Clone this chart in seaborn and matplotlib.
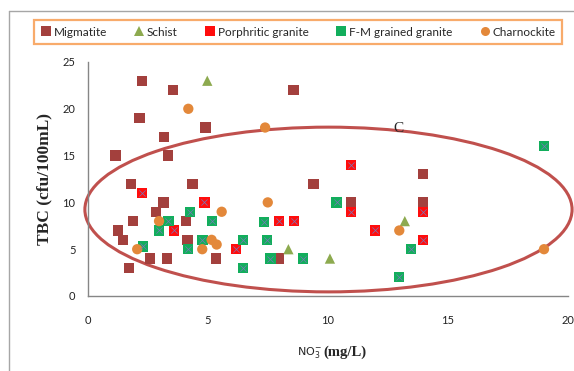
import matplotlib
matplotlib.use("Agg")
import matplotlib.pyplot as plt
import seaborn as sns
import pandas as pd
from matplotlib.patches import Ellipse
from matplotlib.lines import Line2D

# values
rock_types = ["Migmatite", "Schist", "Porphritic granite",
              "F-M grained granite", "Charnockite"]

migmatite_no3 = [1.15, 2.24, 3.55, 2.14, 4.9, 3.17, 3.33, 8.56, 1.78, 4.36,
                 9.39, 3.15, 2.83, 1.88, 4.07, 1.26, 1.47, 4.14, 2.58, 3.29,
                 5.32, 7.96, 1.72, 10.96, 13.97, 13.97]
migmatite_tbc = [15, 23, 22, 19, 18, 17, 15, 22, 12, 12,
                 12, 10, 9, 8, 8, 7, 6, 6, 4, 4,
                 4, 4, 3, 10, 10, 13]

schist_no3 = [4.97, 8.35, 10.08, 13.2]
schist_tbc = [23, 5, 4, 8]

porph_no3 = [2.26, 4.85, 3.57, 7.96, 8.57, 6.17, 10.96, 10.96, 13.97, 11.97, 13.97]
porph_tbc = [11, 10, 7, 8, 8, 5, 14, 9, 9, 7, 6]

fm_no3 = [3.35, 2.96, 4.26, 2.28, 4.17, 4.77, 5.17, 7.33, 6.47, 7.46,
          6.47, 7.6, 8.97, 10.36, 13.46, 12.96, 19.0]
fm_tbc = [8, 7, 9, 5.3, 5, 6, 8, 7.9, 6, 6,
          3, 4, 4, 10, 5, 2, 16]

charn_no3 = [4.18, 7.38, 2.96, 2.05, 4.76, 5.57, 7.49, 5.15, 5.36, 12.97, 19.0]
charn_tbc = [20, 18, 8, 5, 5, 9, 10, 6, 5.5, 7, 5]

x_ticks = [0, 5, 10, 15, 20]
y_ticks = [0, 5, 10, 15, 20, 25]

colors = {
    "Migmatite": "#A3403D",
    "Schist": "#8DAA4F",
    "Porphritic granite": "#FF0D0D",
    "F-M grained granite": "#12AE5C",
    "Charnockite": "#E3883A",
}
markers = {
    "Migmatite": "s",
    "Schist": "^",
    "Porphritic granite": "s",
    "F-M grained granite": "s",
    "Charnockite": "o",
}

frames = []
for name, xs, ys in zip(rock_types,
                        [migmatite_no3, schist_no3, porph_no3, fm_no3, charn_no3],
                        [migmatite_tbc, schist_tbc, porph_tbc, fm_tbc, charn_tbc]):
    frames.append(pd.DataFrame({"no3": xs, "tbc": ys, "rock": name}))
df = pd.concat(frames, ignore_index=True)

sns.set_style("white")
plt.rcParams["font.family"] = ["Lato", "DejaVu Sans"]

fig = plt.figure(figsize=(5.74, 3.71), dpi=100)
ax = fig.add_axes([88 / 574, 1 - 296 / 371, 480 / 574, 234 / 371])

sns.scatterplot(data=df, x="no3", y="tbc", hue="rock", style="rock",
                palette=colors, markers=markers, s=55, linewidth=0,
                legend=False, ax=ax, zorder=3)

# the crossed squares of the two granites
crossed = df[df["rock"].isin(["Porphritic granite", "F-M grained granite"])]
sns.scatterplot(data=crossed, x="no3", y="tbc", marker="x", color="#7878B8",
                s=20, linewidth=0.5, legend=False, ax=ax, zorder=4)

ell = Ellipse((10.02, 9.24), width=20.3, height=17.6, fill=False,
              edgecolor="#C0504D", linewidth=2.2, clip_on=False, zorder=2)
ax.add_patch(ell)
ax.text(12.95, 17.85, "C", family="Liberation Serif", fontsize=11,
        ha="center", va="center", zorder=5)

ax.set_xlim(0, 20)
ax.set_ylim(0, 25)
ax.set_xticks(x_ticks)
ax.set_yticks(y_ticks)
ax.set_xlabel("")
for side in ["top", "right"]:
    ax.spines[side].set_visible(False)
for side in ["left", "bottom"]:
    ax.spines[side].set_color("#868686")
    ax.spines[side].set_linewidth(1.0)
ax.tick_params(axis="both", which="major", direction="out", length=4,
               width=1, color="#868686", labelsize=8, labelcolor="#222222")
ax.tick_params(axis="x", pad=10)
ax.tick_params(axis="y", pad=5)

ax.set_ylabel("TBC (cfu/100mL)", family="Liberation Serif", fontweight="bold",
              fontsize=12.5, labelpad=7)
fig.text(322 / 574, 1 - 352 / 371, "NO$_3^{-}$", fontsize=8, ha="right",
         va="center", family="DejaVu Sans")
fig.text(323 / 574, 1 - 352 / 371, "(mg/L)", fontsize=10.5, ha="left",
         va="center", family="Liberation Serif", fontweight="bold")

handles = [Line2D([], [], linestyle="", marker=markers[r], color=colors[r],
                  markersize=6.5, markeredgewidth=0) for r in rock_types]
leg = fig.legend(handles, rock_types, loc="center",
                 bbox_to_anchor=(298 / 574, 1 - 32 / 371), ncol=5,
                 frameon=True, fancybox=False, edgecolor="#F79646",
                 fontsize=8.5, handlelength=0.9, handletextpad=0.2,
                 columnspacing=2.3, borderpad=0.55)
leg.get_frame().set_linewidth(1.6)

# chart-area border as in the spreadsheet export
fig.add_artist(Line2D([9 / 574, 9 / 574], [0, 1 - 11 / 371],
                      transform=fig.transFigure, color="#A6A6A6", lw=1))
fig.add_artist(Line2D([9 / 574, 1], [1 - 11 / 371, 1 - 11 / 371],
                      transform=fig.transFigure, color="#A6A6A6", lw=1))

fig.savefig("out.png", dpi=100)
